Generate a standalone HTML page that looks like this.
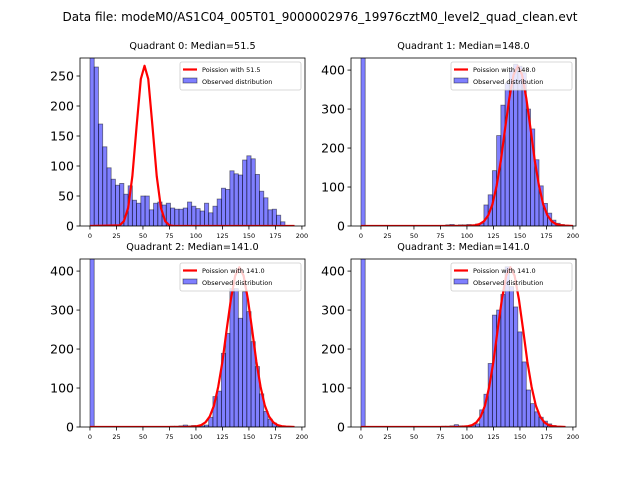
<!DOCTYPE html>
<html><head><meta charset="utf-8"><style>
html,body{margin:0;padding:0;background:#fff;}
svg{display:block;font-family:"DejaVu Sans","Liberation Sans",sans-serif;}
</style></head><body>
<svg id="chart" width="640" height="480" viewBox="0 0 640 480" xmlns="http://www.w3.org/2000/svg">
<rect width="640" height="480" fill="#fff"/>
<text x="320" y="21" text-anchor="middle" font-size="12">Data file: modeM0/AS1C04_005T01_9000002976_19976cztM0_level2_quad_clean.evt</text>
</svg>
<script>
const binStarts = [0,4,8,12,16,20,24,28,32,36,40,44,48,52,56,60,64,68,72,76,80,84,88,92,96,100,104,108,112,116,120,124,128,132,136,140,144,148,152,156,160,164,168,172,176,180,184,188,192,196];
const q0Counts = [290,265,170,132,97,78,68,71,53,67,43,38,50,50,27,38,40,35,38,30,28,28,30,40,33,29,25,38,22,33,45,63,61,92,87,85,110,117,112,86,58,47,27,28,18,7,0,1,0,0];
const q1Counts = [460,0,0,0,0,0,0,0,0,0,0,0,0,0,0,0,0,0,0,0,3,4,2,3,3,4,3,5,7,54,80,142,232,310,367,400,415,410,393,300,249,170,103,58,33,15,7,4,2,1];
const q2Counts = [460,0,0,0,0,0,0,0,0,0,0,0,0,0,0,0,0,0,0,2,2,3,5,3,4,2,3,5,25,78,92,189,240,355,355,279,347,296,219,155,85,40,20,10,4,0,0,0,0,0];
const q3Counts = [460,0,0,0,0,0,0,0,0,0,0,0,0,0,0,0,0,0,0,2,2,3,6,3,3,3,4,8,44,84,163,287,300,340,411,360,308,244,167,95,60,39,25,15,8,4,0,0,0,0];
const q0CurveX = [0,28,32,36,40,44,48,51.5,55,59,63,67,71,75,79,193];
const q0CurveY = [0,1,8,30,83,166,245,267,245,166,83,30,8,1,0,0];
const q1CurveX = [0,100,108,112,116,120,124,128,132,136,140,144,148,152,156,160,164,168,172,176,180,184,188,192,200];
const q1CurveY = [0,0,2,5,12,27,55,103,168,250,328,388,410,388,328,250,168,103,55,27,12,5,2,1,0];
const q23CurveX = [0,93,101,105,109,113,117,121,125,129,133,137,141,145,149,153,157,161,165,169,173,177,181,185,193];
const q23CurveY = [0,0,2,5,12,27,55,103,168,250,328,388,410,388,328,250,168,103,55,27,12,5,2,1,0];
const xTicks = [0,25,50,75,100,125,150,175,200];
const q0YTicks = [0,50,100,150,200,250];
const qYTicks = [0,100,200,300,400];
const titles = ["Quadrant 0: Median=51.5","Quadrant 1: Median=148.0","Quadrant 2: Median=141.0","Quadrant 3: Median=141.0"];
const legendLabels = ["Poission with 51.5","Poission with 148.0","Poission with 141.0","Poission with 141.0"];

const NS = "http://www.w3.org/2000/svg";
const svg = document.getElementById('chart');
function mk(tag, attrs, parent){const e=document.createElementNS(NS,tag);for(const k in attrs)e.setAttribute(k,attrs[k]);(parent||svg).appendChild(e);return e;}

const panels = [
 {L:80,T:58,R:305,B:226,ymax:280,counts:q0Counts,cx:q0CurveX,cy:q0CurveY,yt:q0YTicks},
 {L:351,T:58,R:576,B:226,ymax:431,counts:q1Counts,cx:q1CurveX,cy:q1CurveY,yt:qYTicks},
 {L:80,T:259,R:305,B:427,ymax:431,counts:q2Counts,cx:q23CurveX,cy:q23CurveY,yt:qYTicks},
 {L:351,T:259,R:576,B:427,ymax:431,counts:q3Counts,cx:q23CurveX,cy:q23CurveY,yt:qYTicks}
];
const xmin=-9.4, xmax=202.9, binW=4;

panels.forEach((p,i)=>{
  const g = mk('g',{});
  
  
  const xs = v => p.L + (v-xmin)/(xmax-xmin)*(p.R-p.L);
  const ys = v => p.B - v/p.ymax*(p.B-p.T);
  const cp = mk('clipPath',{id:'clip'+i},g);
  mk('rect',{x:p.L,y:p.T,width:p.R-p.L,height:p.B-p.T},cp);
  const plot = mk('g',{'clip-path':'url(#clip'+i+')'},g);
  // bars
  p.counts.forEach((c,k)=>{
    if(c<=0) return;
    const x0=xs(binStarts[k]), x1=xs(binStarts[k]+binW);
    const r = mk('rect',{x:x0,y:ys(c),width:x1-x0,height:p.B-ys(c),fill:'rgba(0,0,255,0.5)',stroke:'rgba(0,0,0,0.5)','stroke-width':0.8},plot);
    
    
  });
  // curve on top
  const pts = p.cx.map((x,k)=>xs(x).toFixed(2)+','+ys(p.cy[k]).toFixed(2)).join(' ');
  const line = mk('polyline',{points:pts,fill:'none',stroke:'#ff0000','stroke-width':2.2,'stroke-linejoin':'round'},plot);
  
  
  // frame
  mk('rect',{x:p.L,y:p.T,width:p.R-p.L,height:p.B-p.T,fill:'none',stroke:'#000','stroke-width':0.8},g);
  xTicks.forEach(t=>{
    const x=xs(t);
    mk('line',{x1:x,y1:p.B,x2:x,y2:p.B+3.5,stroke:'#000','stroke-width':0.8},g);
    const tx = mk('text',{x:x,y:p.B+12,'text-anchor':'middle','font-size':6.5},g);
    
    
    tx.textContent=t;
  });
  p.yt.forEach(t=>{
    const y=ys(t);
    mk('line',{x1:p.L,y1:y,x2:p.L-3.5,y2:y,stroke:'#000','stroke-width':0.8},g);
    const ty = mk('text',{x:p.L-6,y:y+4.5,'text-anchor':'end','font-size':12.5},g);
    
    
    ty.textContent=t;
  });
  const tt = mk('text',{x:(p.L+p.R)/2,y:p.T-9,'text-anchor':'middle','font-size':9.7},g);
  
  
  tt.textContent=titles[i];
  const lg = mk('g',{},g);
  
  
  const lx=p.R-125, ly=p.T+4;
  mk('rect',{x:lx,y:ly,width:121,height:28,rx:2,fill:'rgba(255,255,255,0.8)',stroke:'#ccc','stroke-width':0.8},lg);
  mk('line',{x1:lx+3,y1:ly+7.5,x2:lx+17,y2:ly+7.5,stroke:'#ff0000','stroke-width':2.2},lg);
  mk('rect',{x:lx+3,y:ly+16,width:14,height:5,fill:'rgba(0,0,255,0.5)',stroke:'rgba(0,0,0,0.5)','stroke-width':0.8},lg);
  const l1=mk('text',{x:lx+22,y:ly+10,'font-size':6.5},lg);
  
  
  l1.textContent=legendLabels[i];
  const l2=mk('text',{x:lx+22,y:ly+22,'font-size':6.5},lg);
  
  
  l2.textContent='Observed distribution';
});
</script>
</body></html>
